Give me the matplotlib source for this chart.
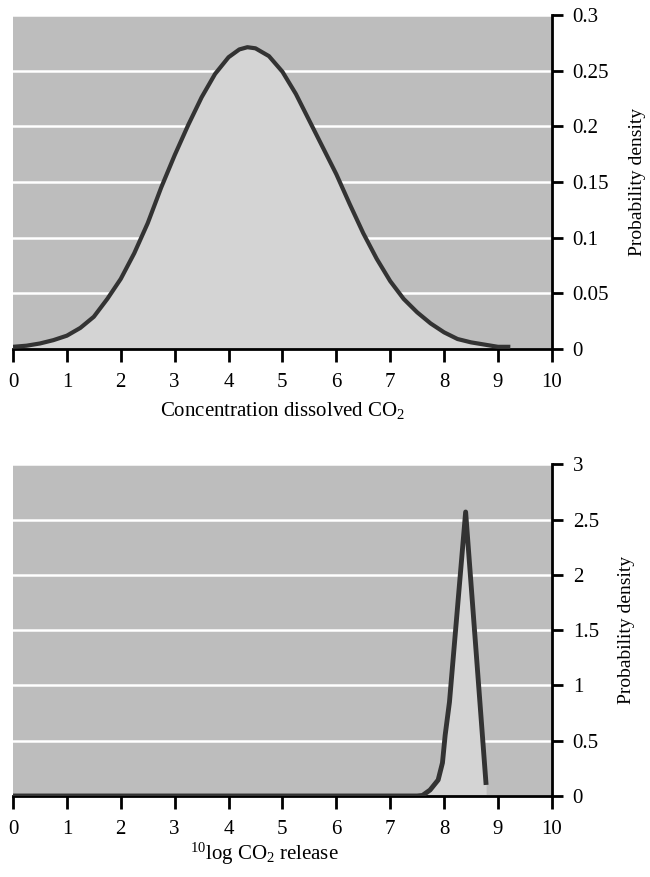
#!/usr/bin/env python3
import numpy as np
import matplotlib
matplotlib.use('Agg')
import matplotlib.pyplot as plt

plt.rcParams['font.family'] = ['Liberation Serif', 'DejaVu Serif']
plt.rcParams['mathtext.fontset'] = 'custom'
plt.rcParams['mathtext.rm'] = 'Liberation Serif'
plt.rcParams['mathtext.it'] = 'Liberation Serif:italic'

# Top panel: concentration dissolved CO2
conc_x = [0, 0.25, 0.5, 0.75, 1.0, 1.25, 1.5, 1.75, 2.0, 2.25, 2.5, 2.75,
          3.0, 3.25, 3.5, 3.75, 4.0, 4.2, 4.35, 4.5, 4.75, 5.0, 5.25, 5.5,
          5.75, 6.0, 6.25, 6.5, 6.75, 7.0, 7.25, 7.5, 7.75, 8.0, 8.25, 8.5,
          8.75, 9.0, 9.23]
conc_y = [0.002, 0.003, 0.005, 0.008, 0.012, 0.019, 0.029, 0.045, 0.063,
          0.086, 0.113, 0.145, 0.174, 0.201, 0.226, 0.247, 0.262, 0.269,
          0.271, 0.270, 0.263, 0.249, 0.229, 0.205, 0.181, 0.157, 0.130,
          0.104, 0.081, 0.061, 0.045, 0.033, 0.023, 0.015, 0.009, 0.006,
          0.004, 0.002, 0.002]

# Bottom panel: 10log CO2 release
rel_x = [0, 7.5, 7.6, 7.74, 7.89, 7.97, 8.02, 8.1, 8.4, 8.78]
rel_y = [0, 0, 0.005, 0.054, 0.145, 0.3, 0.55, 0.85, 2.57, 0.1]

x_ticks = list(range(0, 11))
top_yticks = [0, 0.05, 0.1, 0.15, 0.2, 0.25, 0.3]
top_ylabels = ['0', '0.05', '0.1', '0.15', '0.2', '0.25', '0.3']
bot_yticks = [0, 0.5, 1, 1.5, 2, 2.5, 3]
bot_ylabels = ['0', '0.5', '1', '1.5', '2', '2.5', '3']

BG = '#bdbdbd'
FILL = '#d4d4d4'
LINE = '#333333'

fig = plt.figure(figsize=(6.5, 8.77), dpi=100)
fig.patch.set_facecolor('white')

ax1 = fig.add_axes([0.02, 0.602, 0.829, 0.381])
ax2 = fig.add_axes([0.02, 0.0924, 0.829, 0.378])


def style(ax, yticks, ylabels, ymax):
    ax.set_facecolor(BG)
    ax.set_xlim(0, 10)
    ax.set_ylim(0, ymax)
    for s in ['left', 'top']:
        ax.spines[s].set_visible(False)
    for s in ['bottom', 'right']:
        ax.spines[s].set_linewidth(2)
        ax.spines[s].set_color('black')
    ax.yaxis.tick_right()
    ax.yaxis.set_label_position('right')
    ax.set_xticks(x_ticks)
    ax.set_xticklabels([str(t) for t in x_ticks])
    ax.set_yticks(yticks)
    ax.set_yticklabels(ylabels)
    ax.tick_params(axis='x', direction='out', length=9, width=2, pad=8,
                   labelsize=15)
    ax.tick_params(axis='y', direction='out', length=8, width=2, pad=7,
                   labelsize=15)
    ax.grid(axis='y', color='white', linewidth=1.8)
    ax.set_axisbelow(True)
    ax.set_ylabel('Probability density', fontsize=14, labelpad=14)


style(ax1, top_yticks, top_ylabels, 0.3)
ax1.fill_between(conc_x, conc_y, 0, color=FILL, zorder=2, linewidth=0)
ax1.plot(conc_x, conc_y, color=LINE, linewidth=3, zorder=3,
         solid_capstyle='butt', solid_joinstyle='round')
ax1.set_xlabel('Concentration dissolved CO$_2$', fontsize=15, labelpad=6)

style(ax2, bot_yticks, bot_ylabels, 3)
ax2.fill_between(rel_x, rel_y, 0, color=FILL, zorder=2, linewidth=0)
ax2.plot(rel_x, rel_y, color=LINE, linewidth=3.5, zorder=3,
         solid_capstyle='butt', solid_joinstyle='round')
ax2.set_xlabel('$^{10}$log CO$_2$ release', fontsize=15)
ax2.xaxis.set_label_coords(0.466, -0.135)

fig.savefig('out.png', dpi=100)
